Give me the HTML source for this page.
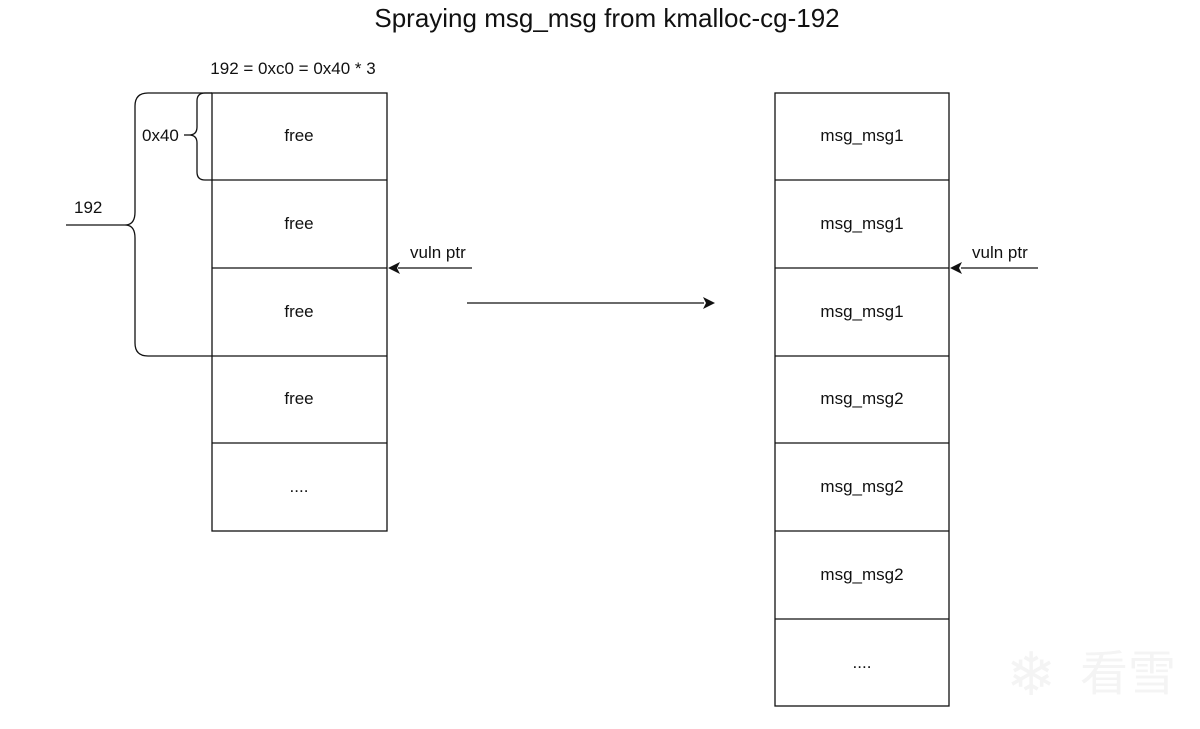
<!DOCTYPE html>
<html><head><style>body{margin:0;background:#fff}svg{display:block}</style></head><body>
<svg width="1200" height="729" xmlns="http://www.w3.org/2000/svg" font-family="Liberation Sans, Arial, sans-serif">
<rect width="1200" height="729" fill="#fff"/>
<text x="607" y="27" font-size="26" text-anchor="middle" fill="#111">Spraying msg_msg from kmalloc-cg-192</text>
<text x="293" y="74" font-size="17" text-anchor="middle" fill="#111">192 = 0xc0 = 0x40 * 3</text>
<g fill="none" stroke="#111" stroke-width="1.3">
<rect x="212" y="93" width="175" height="438"/>
<line x1="212" y1="180" x2="387" y2="180"/>
<line x1="212" y1="268" x2="387" y2="268"/>
<line x1="212" y1="356" x2="387" y2="356"/>
<line x1="212" y1="443" x2="387" y2="443"/>
<rect x="775" y="93" width="174" height="613"/>
<line x1="775" y1="180" x2="949" y2="180"/>
<line x1="775" y1="268" x2="949" y2="268"/>
<line x1="775" y1="356" x2="949" y2="356"/>
<line x1="775" y1="443" x2="949" y2="443"/>
<line x1="775" y1="531" x2="949" y2="531"/>
<line x1="775" y1="619" x2="949" y2="619"/>
<path d="M212 93 H148 Q135 93 135 106 V212 Q135 225 125 225 Q135 225 135 238 V343 Q135 356 148 356 H212"/>
<line x1="66" y1="225" x2="125" y2="225"/>
<path d="M212 93 H205 Q197 93 197 101 V127 Q197 135 189 135 Q197 135 197 143 V172 Q197 180 205 180 H212"/>
<line x1="184" y1="135" x2="189" y2="135"/>
<line x1="398" y1="268" x2="472" y2="268"/>
<line x1="961" y1="268" x2="1038" y2="268"/>
<line x1="467" y1="303" x2="704" y2="303"/>
</g>
<g fill="#111">
<path d="M388 268 L400 262 L397 268 L400 274 Z"/>
<path d="M950 268 L962 262 L959 268 L962 274 Z"/>
<path d="M715 303 L703 297 L706 303 L703 309 Z"/>
</g>
<g font-size="17" fill="#111" text-anchor="middle">
<text x="299" y="141">free</text><text x="299" y="229">free</text><text x="299" y="317">free</text><text x="299" y="404">free</text><text x="299" y="492">....</text>
<text x="862" y="141">msg_msg1</text><text x="862" y="229">msg_msg1</text><text x="862" y="317">msg_msg1</text>
<text x="862" y="404">msg_msg2</text><text x="862" y="492">msg_msg2</text><text x="862" y="580">msg_msg2</text><text x="862" y="668">....</text>
</g>
<g font-size="17" fill="#111">
<text x="142" y="141">0x40</text>
<text x="74" y="213">192</text>
<text x="410" y="258">vuln ptr</text>
<text x="972" y="258">vuln ptr</text>
</g>
<text x="1080" y="690" font-size="48" fill="#f4f4f4" font-family="Noto Sans CJK SC, sans-serif">看雪</text>
<text x="1006" y="695" font-size="60" fill="#f4f4f4">❄</text>
</svg>
</body></html>
